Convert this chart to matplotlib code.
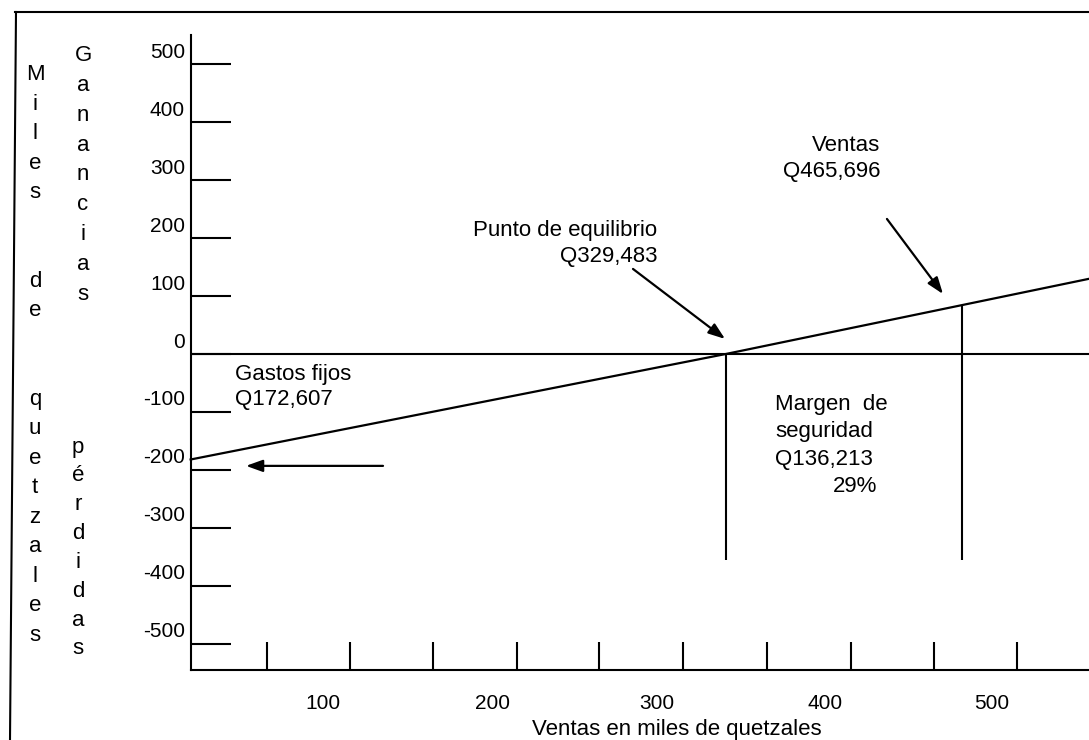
import numpy as np
import matplotlib
matplotlib.use("Agg")
import matplotlib.pyplot as plt
from matplotlib.lines import Line2D

plt.rcParams['font.family'] = ['Liberation Sans', 'DejaVu Sans']
plt.rcParams['font.size'] = 16

# data (miles de quetzales)
fixed_costs = 172.607
breakeven = 329.483
sales = 465.696
safety_margin = 136.213
safety_pct = 29

# profit line as drawn in the picture
line_x = [20.0, breakeven, 540.0]
line_y = [-182.0, 0.0, 130.0]

y_ticks = [500, 400, 300, 200, 100, 0, -100, -200, -300, -400, -500]
x_tick_marks = [64.2, 112.1, 160.1, 208.7, 256.1, 304.6, 353.2, 401.7, 449.7, 497.7]
x_label_pos = [96.5, 194.2, 289.6, 386.7, 483.2]
x_labels = ['100', '200', '300', '400', '500']
drop_to = -355

fig = plt.figure(figsize=(10.89, 7.40), dpi=100)
ax = fig.add_axes([191 / 1089, 70 / 740, 898 / 1089, 635 / 740])
ax.set_xlim(20.2, 539.3)
ax.set_ylim(-545, 550)

for side in ['top', 'right']:
    ax.spines[side].set_visible(False)
for side in ['left', 'bottom']:
    ax.spines[side].set_linewidth(1.5)

# y ticks: long marks pointing into the plot, labels a bit above
ax.set_yticks(y_ticks)
ax.set_yticklabels([])
ax.tick_params(axis='y', direction='in', length=29, width=1.5)
for v in y_ticks:
    ax.annotate(str(v), xy=(0, v), xycoords=('axes fraction', 'data'),
                xytext=(-4.3, 8.6), textcoords='offset points',
                ha='right', va='center', fontsize=15)

# x ticks: marks and labels do not line up in the original
ax.set_xticks(x_tick_marks)
ax.set_xticklabels([])
ax.tick_params(axis='x', direction='in', length=20, width=1.5)
for pos, lab in zip(x_label_pos, x_labels):
    ax.annotate(lab, xy=(pos, 0), xycoords=('data', 'axes fraction'),
                xytext=(0, -23.8), textcoords='offset points',
                ha='center', va='center', fontsize=15)

ax.axhline(0, color='black', lw=1.5)
ax.plot(line_x, line_y, color='black', lw=1.6, clip_on=False)

sales_y = np.interp(sales, line_x, line_y)
ax.vlines([breakeven, sales], [drop_to, drop_to], [0, sales_y], color='black', lw=1.5)

arrow = dict(arrowstyle='-|>,head_length=0.5,head_width=0.18', color='black',
             lw=1.6, mutation_scale=20, shrinkA=0, shrinkB=0)
ax.annotate('', xy=(328.9, 25.9), xytext=(275.7, 146.6), arrowprops=arrow)
ax.annotate('', xy=(454.9, 103.4), xytext=(422.5, 232.8), arrowprops=arrow)
ax.annotate('', xy=(52.0, -193.0), xytext=(131.2, -193.0), arrowprops=arrow)


def money(v):
    return 'Q{:,.3f}'.format(v).replace('.', ',')


ax.text(289.6, 190, 'Punto de equilibrio\n' + money(breakeven),
        ha='right', va='center', multialignment='right', linespacing=1.33)
ax.text(418.5, 337, 'Ventas\n' + money(sales),
        ha='right', va='center', multialignment='right', linespacing=1.3)
ax.text(45.7, -57, 'Gastos fijos\n' + money(fixed_costs),
        ha='left', va='center', linespacing=1.3)
ax.text(357.8, -134, 'Margen  de\nseguridad\n' + money(safety_margin),
        ha='left', va='center', linespacing=1.41)
ax.text(416.8, -229, '{}%'.format(safety_pct), ha='right', va='center')

# stacked letters on the left
fig.text(35 / 1089, 1 - 355 / 740, '\n'.join('Miles  de  quetzales'),
         ha='center', va='center', linespacing=1.53)
fig.text(83 / 1089, 1 - 175 / 740, '\n'.join('Ganancias'),
         ha='center', va='center', linespacing=1.55)
fig.text(78 / 1089, 1 - 548 / 740, '\n'.join('pérdidas'),
         ha='center', va='center', linespacing=1.49)

fig.text(677 / 1089, 1 - 729 / 740, 'Ventas en miles de quetzales',
         ha='center', va='center')

# frame of the scanned page
fig.add_artist(Line2D([15 / 1089, 1], [1 - 12 / 740, 1 - 12 / 740],
                      transform=fig.transFigure, color='black', lw=1.5))
fig.add_artist(Line2D([16 / 1089, 10 / 1089], [1 - 12 / 740, 0],
                      transform=fig.transFigure, color='black', lw=1.5))

fig.savefig('out.png', dpi=100)
